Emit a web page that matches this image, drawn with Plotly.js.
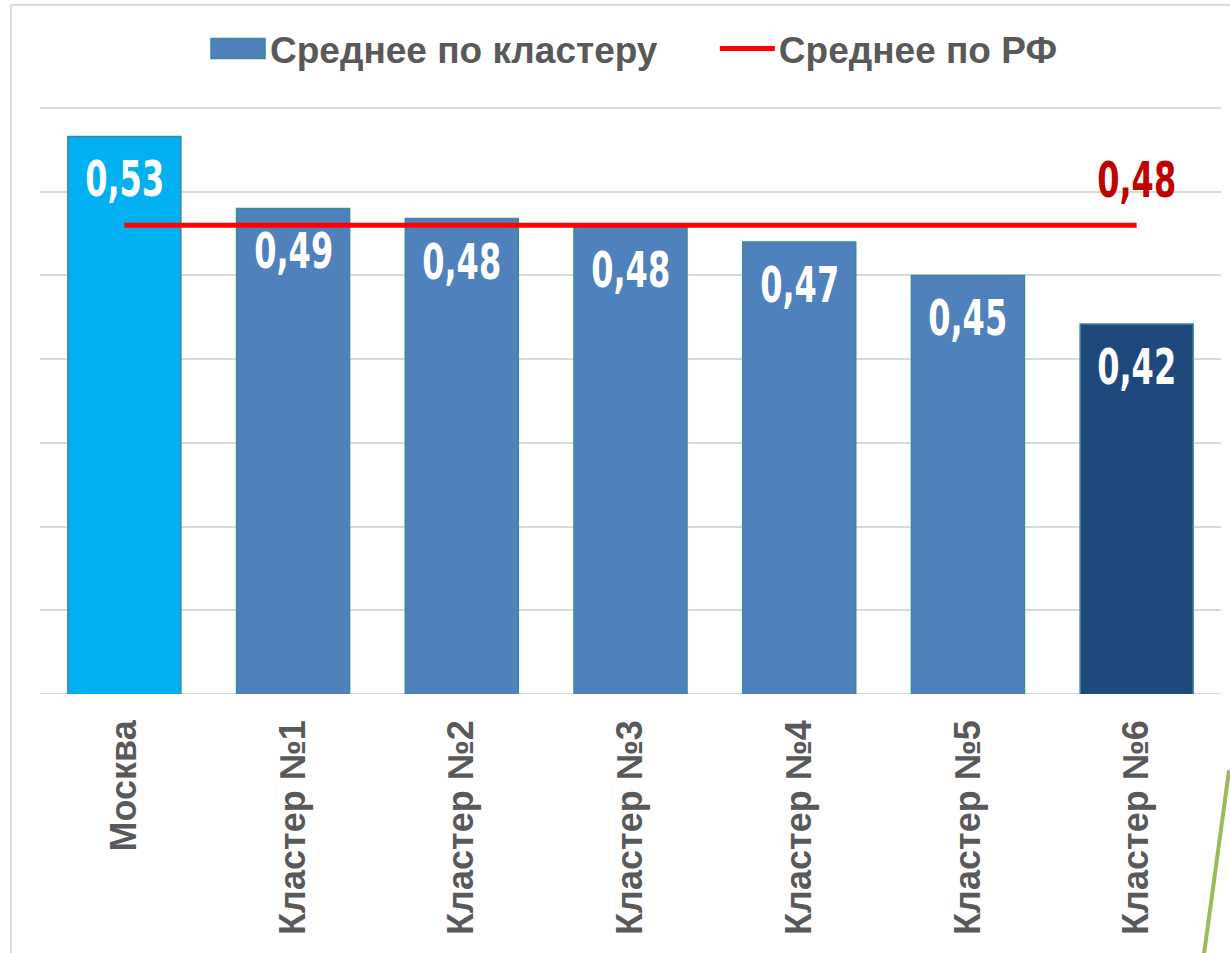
<!DOCTYPE html>
<html>
<head>
<meta charset="utf-8">
<script src="https://cdn.plot.ly/plotly-3.0.1.min.js"></script>
<style>
html,body{margin:0;padding:0;background:#fff;}
#chart{width:1230px;height:953px;}
</style>
</head>
<body>
<div id="chart"></div>
<script>
const categories = ['Москва', 'Кластер №1', 'Кластер №2', 'Кластер №3', 'Кластер №4', 'Кластер №5', 'Кластер №6'];
const clusterValues = [0.533, 0.490, 0.484, 0.479, 0.470, 0.450, 0.421];
const rfValues = [0.480, 0.480, 0.480, 0.480, 0.480, 0.480, 0.480];
const barColors = ['#00B0F0', '#4F81BD', '#4F81BD', '#4F81BD', '#4F81BD', '#4F81BD', '#1F497D'];
const seriesNames = ['Среднее по кластеру', 'Среднее по РФ'];

const fmt = v => v.toFixed(2).replace('.', ',');
const labelFont = '"DejaVu Sans", sans-serif';

const traces = [
  {
    type: 'bar',
    x: categories,
    y: clusterValues,
    name: seriesNames[0],
    marker: {color: barColors, line: {color: '#3A8A9E', width: 1.5}},
    hoverinfo: 'x+y'
  },
  {
    type: 'scatter',
    mode: 'lines',
    x: categories,
    y: rfValues,
    name: seriesNames[1],
    line: {color: '#FF0000', width: 5}
  }
];

const annotations = categories.map((c, i) => ({
  x: c, y: clusterValues[i], xref: 'x', yref: 'y',
  text: fmt(clusterValues[i]),
  showarrow: false, yanchor: 'top', yshift: -12,
  font: {family: labelFont, size: 50, color: '#FFFFFF', weight: 'bold'}
}));
annotations.push({
  x: categories[categories.length - 1], y: rfValues[rfValues.length - 1], xref: 'x', yref: 'y',
  text: fmt(rfValues[rfValues.length - 1]),
  showarrow: false, yanchor: 'bottom', yshift: 14,
  font: {family: labelFont, size: 50, color: '#C00000', weight: 'bold'}
});

const layout = {
  width: 1230, height: 953,
  margin: {l: 40, r: 9, t: 105, b: 259},
  paper_bgcolor: '#FFFFFF',
  plot_bgcolor: '#FFFFFF',
  bargap: 0.33,
  showlegend: true,
  legend: {
    orientation: 'h', x: 0.5, xanchor: 'center', y: 1.095, yanchor: 'middle',
    bgcolor: 'rgba(0,0,0,0)',
    font: {family: '"Liberation Sans", Arial, sans-serif', size: 37, color: '#595959', weight: 'bold'},
    itemwidth: 60
  },
  xaxis: {
    type: 'category',
    tickangle: -90,
    tickfont: {family: '"Liberation Sans", Arial, sans-serif', size: 36, color: '#595959', weight: 'bold'},
    showgrid: false, showline: false, zeroline: false,
    ticks: '', ticklabelstandoff: 18,
    automargin: false
  },
  yaxis: {
    range: [0.2, 0.5518], dtick: 0.05, tick0: 0.2,
    showticklabels: false, ticks: '',
    showgrid: true, gridcolor: '#D9D9D9', gridwidth: 2,
    zeroline: false, showline: false,
    automargin: false
  },
  annotations: annotations,
  shapes: [
    {type: 'line', xref: 'paper', yref: 'y', x0: 0, x1: 1, y0: 0.2, y1: 0.2, layer: 'below', line: {color: '#D9D9D9', width: 2}},
    {type: 'line', xref: 'paper', yref: 'paper', x0: -0.0246, x1: -0.0246, y0: 1.17, y1: -0.45, line: {color: '#D9D9D9', width: 2}},
    {type: 'line', xref: 'paper', yref: 'paper', x0: -0.0246, x1: 1.01, y0: 1.17, y1: 1.17, line: {color: '#D9D9D9', width: 2}},
    {type: 'line', xref: 'paper', yref: 'paper', x0: 1.0068, x1: 0.9856, y0: -0.1297, y1: -0.442, line: {color: '#9BBB59', width: 4}}
  ]
};

const legendShift = [-22, 24];

Plotly.newPlot('chart', traces, layout, {displayModeBar: false, staticPlot: true}).then(gd => {
  gd.querySelectorAll('.annotation-text').forEach(t => {
    t.style.transformBox = 'fill-box';
    t.style.transformOrigin = 'center';
    t.style.transform = 'scaleX(0.64)';
  });
  gd.querySelectorAll('.legend .legendpoints path').forEach(p => {
    p.setAttribute('d', 'M-24,-10h54v20h-54Z');
    p.style.fill = '#4F81BD';
    p.style.stroke = '#3A8A9E';
  });
  gd.querySelectorAll('.legend .legendlines path').forEach(p => {
    p.setAttribute('d', 'M11,0h55');
  });
  gd.querySelectorAll('.legend [clip-path]').forEach(el => el.removeAttribute('clip-path'));
  gd.querySelectorAll('.legend g.traces').forEach((g, i) => {
    const tr = g.getAttribute('transform') || '';
    const m = tr.match(/translate\(\s*([-\d.e]+)[ ,]+([-\d.e]+)\s*\)/);
    if (m) {
      g.setAttribute('transform', 'translate(' + (parseFloat(m[1]) + (legendShift[i] || 0)) + ',' + m[2] + ')');
    }
  });
});
</script>
</body>
</html>
